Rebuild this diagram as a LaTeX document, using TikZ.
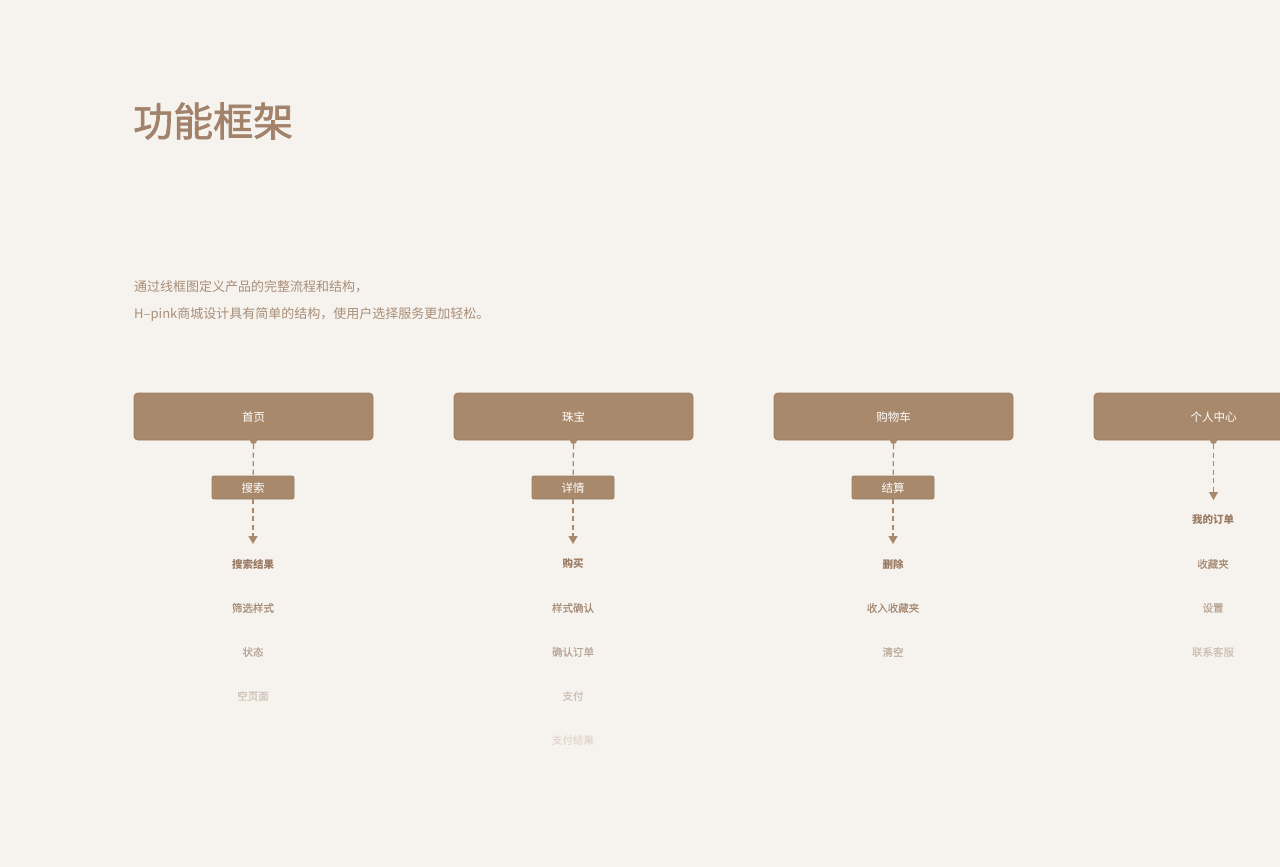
\documentclass[tikz,border=0pt]{standalone}
\usepackage{fontspec}
\setmainfont{Noto Sans CJK SC}
\newfontfamily\cjk{Noto Sans CJK SC}
\newfontfamily\cjkmid[FakeBold=1.6]{Noto Sans CJK SC}
\newfontfamily\cjksemi[FakeBold=0.4]{Noto Sans CJK SC}
\usetikzlibrary{arrows.meta}
\definecolor{bgc}{HTML}{F6F3EE}
\definecolor{boxc}{HTML}{A8896C}
\definecolor{boxe}{HTML}{9C7B5E}
\definecolor{titc}{HTML}{A2826A}
\definecolor{subc}{HTML}{A88E78}
\definecolor{itA}{HTML}{9B7B62}
\definecolor{itB}{HTML}{A68C76}
\definecolor{itC}{HTML}{B8A494}
\definecolor{itD}{HTML}{CEC0B4}
\definecolor{itE}{HTML}{E1D7CE}
\tikzset{
  bigbox/.style={draw=boxe, line width=0.8pt, fill=boxc, rounded corners=4pt, minimum width=239pt, minimum height=47pt, inner sep=0pt, text height=11pt, text depth=1pt, text=white, font=\cjk\fontsize{11.5}{12}\selectfont},
  smallbox/.style={draw=boxe, line width=0.8pt, fill=boxc, rounded corners=2pt, minimum width=82pt, minimum height=23pt, inner sep=0pt, text height=11pt, text depth=1pt, text=white, font=\cjk\fontsize{11.5}{12}\selectfont},
  conn/.style={draw=boxc, line width=1.3pt, dash pattern=on 5pt off 3.5pt},
  arr/.style={conn, -{Triangle[width=9pt,length=8pt]}},
  knob/.style={circle, fill=boxc, inner sep=0pt, minimum size=7pt},
  itembase/.style={inner sep=0pt, font=\cjksemi\fontsize{10.5}{11}\selectfont},
  itemA/.style={itembase, text=itA, font=\cjk\bfseries\fontsize{10.5}{11}\selectfont},
  itemB/.style={itembase, text=itB},
  itemC/.style={itembase, text=itC},
  itemD/.style={itembase, text=itD},
  itemE/.style={itembase, text=itE},
}
\begin{document}
\begin{tikzpicture}[x=1pt,y=-1pt]
\useasboundingbox (0,0) rectangle (1280,867);
\fill[bgc] (0,0) rectangle (1280,867);
\clip (0,0) rectangle (1280,867);

\node[anchor=west, inner sep=0pt, text=titc, font=\cjkmid\fontsize{40}{41}\selectfont] (title) at (133,121) {功能框架};
\node[anchor=west, inner sep=0pt, text=subc, font=\cjk\fontsize{13}{14}\selectfont] (sub1) at (134,287) {通过线框图定义产品的完整流程和结构，};
\node[anchor=west, inner sep=0pt, text=subc, font=\cjk\fontsize{13}{14}\selectfont] (sub2) at (134,314.5) {H–pink商城设计具有简单的结构，使用户选择服务更加轻松。};

% column 1
\node[bigbox] (b1) at (253.5,416.5) {首页};
\node[knob] (k1) at (253.5,440.5) {};
\node[smallbox] (s1) at (253,487.5) {搜索};
\coordinate (e1) at (253,544);
\draw[conn] (k1) -- (s1);
\draw[arr] (s1) -- (e1);
\node[itemA] (c1i1) at (253,564) {搜索结果};
\node[itemB] (c1i2) at (253,608) {筛选样式};
\node[itemC] (c1i3) at (253,652) {状态};
\node[itemD] (c1i4) at (253,696) {空页面};

% column 2
\node[bigbox] (b2) at (573.5,416.5) {珠宝};
\node[knob] (k2) at (573.5,440.5) {};
\node[smallbox] (s2) at (573,487.5) {详情};
\coordinate (e2) at (573,544);
\draw[conn] (k2) -- (s2);
\draw[arr] (s2) -- (e2);
\node[itemA] (c2i1) at (573,564) {购买};
\node[itemB] (c2i2) at (573,608) {样式确认};
\node[itemC] (c2i3) at (573,652) {确认订单};
\node[itemD] (c2i4) at (573,696) {支付};
\node[itemE] (c2i5) at (573,740) {支付结果};

% column 3
\node[bigbox] (b3) at (893.5,416.5) {购物车};
\node[knob] (k3) at (893.5,440.5) {};
\node[smallbox] (s3) at (893,487.5) {结算};
\coordinate (e3) at (893,544);
\draw[conn] (k3) -- (s3);
\draw[arr] (s3) -- (e3);
\node[itemA] (c3i1) at (893,564) {删除};
\node[itemB] (c3i2) at (893,608) {收入收藏夹};
\node[itemC] (c3i3) at (893,652) {清空};

% column 4
\node[bigbox] (b4) at (1213.5,416.5) {个人中心};
\node[knob] (k4) at (1213.5,440.5) {};
\coordinate (e4) at (1213.5,500);
\draw[arr] (k4) -- (e4);
\node[itemA] (c4i1) at (1213,520) {我的订单};
\node[itemB] (c4i2) at (1213,564) {收藏夹};
\node[itemC] (c4i3) at (1213,608) {设置};
\node[itemD] (c4i4) at (1213,652) {联系客服};
\end{tikzpicture}
\end{document}
